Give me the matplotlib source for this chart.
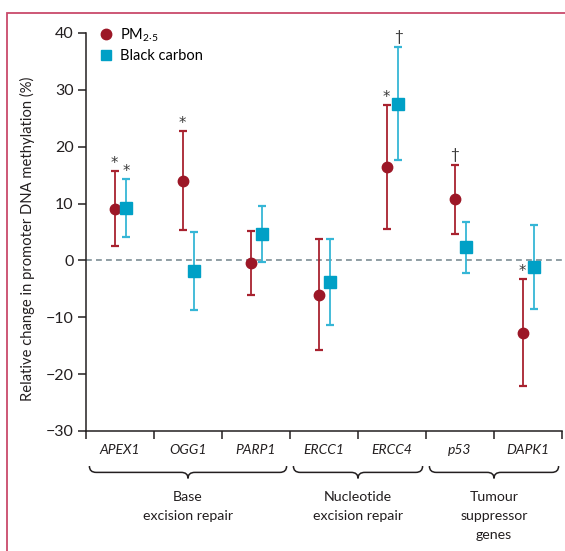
import numpy as np
import matplotlib
matplotlib.use("Agg")
import matplotlib.pyplot as plt
from matplotlib.lines import Line2D
from matplotlib.patches import Rectangle, PathPatch
from matplotlib.path import Path
import matplotlib.transforms as mtransforms

plt.rcParams['font.family'] = ['Lato', 'DejaVu Sans']
plt.rcParams['mathtext.fontset'] = 'custom'
plt.rcParams['mathtext.rm'] = 'Lato'

# data (% change, estimate and 95% CI)
genes = ["APEX1", "OGG1", "PARP1", "ERCC1", "ERCC4", "p53", "DAPK1"]
pm_est = [9.1, 14.0, -0.4, -6.0, 16.4, 10.8, -12.8]
pm_low = [2.5, 5.3, -6.0, -15.7, 5.6, 4.6, -22.1]
pm_high = [15.8, 22.7, 5.1, 3.7, 27.3, 16.8, -3.3]
bc_est = [9.3, -1.9, 4.6, -3.8, 27.5, 2.3, -1.2]
bc_low = [4.2, -8.7, -0.35, -11.3, 17.7, -2.2, -8.5]
bc_high = [14.4, 5.0, 9.5, 3.7, 37.5, 6.7, 6.2]
pm_sig = ["*", "*", "", "", "*", "†", "*"]
bc_sig = ["*", "", "", "", "†", "", ""]
groups = ["Base\nexcision repair", "Nucleotide\nexcision repair", "Tumour\nsuppressor\ngenes"]
group_span = [(0, 3), (3, 5), (5, 7)]

pm_col, pm_line = "#9c1727", "#a8222f"
bc_col, bc_line = "#00a0c6", "#36b6d6"
txt_col = "#231f20"

fig = plt.figure(figsize=(5.65, 5.51), dpi=100)
ax = fig.add_axes([86/565, 1-431/551, 476/565, 398/551])

x = np.arange(len(genes)) + 0.5
x_pm = x - 0.08
x_bc = x + 0.09

ax.axhline(0, color="#7d8e95", ls=(0, (3.5, 2.5)), lw=1.2, zorder=1)

def draw_series(xs, est, low, high, mcol, lcol, marker, ms):
    est = np.array(est)
    yerr = [est - np.array(low), np.array(high) - est]
    ax.errorbar(xs, est, yerr=yerr, fmt="none", ecolor=lcol, elinewidth=1.3,
                capsize=3.2, capthick=1.6, zorder=2)
    ax.plot(xs, est, ls="none", marker=marker, ms=ms, color=mcol, mec=mcol, zorder=3)

draw_series(x_pm, pm_est, pm_low, pm_high, pm_col, pm_line, "o", 7.5)
draw_series(x_bc, bc_est, bc_low, bc_high, bc_col, bc_line, "s", 8)

for xs, hi, sig in [(x_pm, pm_high, pm_sig), (x_bc, bc_high, bc_sig)]:
    for xi, h, s in zip(xs, hi, sig):
        if s == "*":
            ax.annotate(s, (xi, h), xytext=(0, 0), textcoords="offset points",
                        ha="center", va="bottom", fontsize=10.5, color="#3a3a3a",
                        family="DejaVu Sans", annotation_clip=False)
        elif s:
            ax.annotate(s, (xi, h), xytext=(0, 2), textcoords="offset points",
                        ha="center", va="bottom", fontsize=11, color="#3a3a3a",
                        annotation_clip=False)

ax.set_xlim(0, 7)
ax.set_ylim(-30, 40)
ax.set_yticks(np.arange(-30, 41, 10))
ax.set_xticks(np.arange(0, 8))
ax.set_xticklabels([])
ax.set_xticks(x, minor=True)
ax.set_xticklabels(genes, minor=True, style="italic", fontsize=10, color=txt_col)
ax.tick_params(axis="x", which="major", length=6, width=1.1, color=txt_col)
ax.tick_params(axis="x", which="minor", length=0, pad=9.5)
ax.tick_params(axis="y", length=6, width=1.1, color=txt_col, labelsize=11.5,
               labelcolor=txt_col, pad=3)
for side in ["top", "right"]:
    ax.spines[side].set_visible(False)
for side in ["left", "bottom"]:
    ax.spines[side].set_linewidth(1.1)
    ax.spines[side].set_color(txt_col)

ax.set_ylabel("Relative change in promoter DNA methylation (%)", fontsize=10.6, color=txt_col)
ax.yaxis.set_label_coords(-0.108, 0.482)

handles = [Line2D([], [], ls="none", marker="o", ms=7.5, color=pm_col),
           Line2D([], [], ls="none", marker="s", ms=7.5, color=bc_col)]
ax.legend(handles, [r"PM$_{\mathregular{2·5}}$", "Black carbon"], loc="upper left",
          bbox_to_anchor=(0.008, 1.042), frameon=False, fontsize=10.5,
          handlelength=0.8, handletextpad=0.55, labelspacing=0.35, borderpad=0.2)

# curly braces under the gene groups
trans = mtransforms.blended_transform_factory(ax.transData, ax.transAxes)
y_top, y_mid, y_tip = -0.088, -0.104, -0.119
r = 0.1
for (a, b), name in zip(group_span, groups):
    x0, x1 = a + 0.05, b - 0.05
    xc = (a + b) / 2
    verts = [(x0, y_top), (x0, y_mid), (x0 + r, y_mid),
             (xc - r, y_mid), (xc, y_mid), (xc, y_tip),
             (xc, y_mid), (xc + r, y_mid),
             (x1 - r, y_mid), (x1, y_mid), (x1, y_top)]
    codes = [Path.MOVETO, Path.CURVE3, Path.CURVE3,
             Path.LINETO, Path.CURVE3, Path.CURVE3,
             Path.CURVE3, Path.CURVE3,
             Path.LINETO, Path.CURVE3, Path.CURVE3]
    ax.add_patch(PathPatch(Path(verts, codes), transform=trans, fill=False,
                           lw=1.1, ec=txt_col, clip_on=False))
    ax.text(xc, -0.150, name, transform=trans, ha="center", va="top",
            fontsize=10.2, color=txt_col, linespacing=1.72)

# pink frame of the figure panel
fig.add_artist(Rectangle((7/565, -0.05), 1.1, 1 - 13/551 + 0.05,
                         transform=fig.transFigure, fill=False, ec="#c94a6b", lw=1.3))

fig.savefig("out.png", dpi=100)
